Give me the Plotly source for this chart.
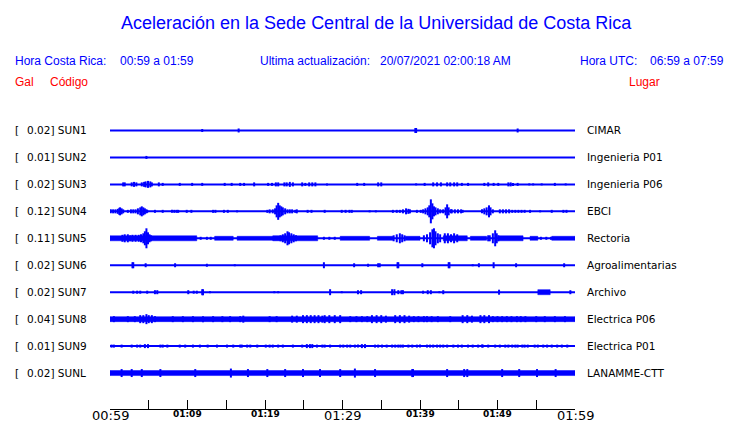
import plotly.graph_objects as go

# ---------------- data ----------------
stations = ["SUN1", "SUN2", "SUN3", "SUN4", "SUN5", "SUN6", "SUN7", "SUN8", "SUN9", "SUNL"]
places = ["CIMAR", "Ingenieria P01", "Ingenieria P06", "EBCI", "Rectoria",
          "Agroalimentarias", "Archivo", "Electrica P06", "Electrica P01", "LANAMME-CTT"]
peak_gal = ["0.02", "0.01", "0.02", "0.12", "0.11", "0.02", "0.02", "0.04", "0.01", "0.02"]

# minutes after 00:59 for the axis ticks, and their labels
tick_minutes = [0, 5, 10, 15, 20, 25, 30, 35, 40, 45, 50, 55, 60]
tick_labels = ["00:59", "", "01:09", "", "01:19", "", "01:29", "", "01:39", "", "01:49", "", "01:59"]
big_labels = ["00:59", "01:29", "01:59"]

# amplitudes are in trace units (27 units = spacing between two stations)
# continuous thick segments: (start minute, end minute, half amplitude)
sun5_bands = [(0, 11.2, 2.5), (13.5, 15.9, 2), (16.4, 21.9, 2), (21.0, 26.8, 2.5),
              (29.7, 33.5, 2), (34.5, 36.5, 2), (38.1, 40.0, 2), (43.0, 46.1, 2.5),
              (46.5, 48.6, 2), (50.1, 53.3, 2.5), (54.2, 55.2, 2), (57.0, 60.0, 2)]
sun7_bands = [(55.2, 56.8, 2.5)]
sun8_bands = [(0, 60, 2.5)]
sunl_bands = [(0, 60, 2.5)]

# individual strokes: (minute, half amplitude)
sun1_spikes = [(11.9, 1.5), (16.6, 2), (39.4, 2.5), (39.5, 2.5), (52.6, 2)]
sun2_spikes = [(4.7, 1.5)]
sun3_spikes = [(1.7, 2), (1.9, 2), (2.8, 2), (3.1, 2.5), (3.4, 2), (4.1, 2), (4.4, 2.5), (4.6, 3),
               (4.9, 3.5), (5.2, 3), (5.4, 2), (6.3, 2), (6.8, 1.5), (9.0, 1.5), (10.6, 1.5),
               (11.9, 1.5), (14.8, 1.5), (15.7, 1.5), (16.8, 1.5), (17.3, 1.5), (18.6, 2),
               (20.4, 1.5), (20.9, 1.5), (21.4, 2), (21.7, 2), (22.5, 2), (22.8, 2), (23.2, 2.5),
               (23.6, 2), (24.8, 2), (25.2, 1.5), (25.7, 2), (26.1, 2), (26.5, 2), (28.0, 1),
               (31.9, 1.5), (32.8, 1.5), (34.6, 2), (35.0, 2), (39.5, 1), (40.6, 1.5), (41.7, 2),
               (42.2, 2), (42.7, 2), (43.5, 2), (43.9, 2), (44.4, 2), (44.8, 2), (45.4, 1.5),
               (46.2, 1.5), (48.3, 1.5), (48.8, 2), (49.5, 1.5), (50.1, 1.5), (51.4, 2),
               (51.7, 2), (52.0, 1.5), (52.6, 1.5), (54.1, 1), (54.6, 1), (55.7, 1), (57.4, 1.5),
               (58.8, 1)]
sun4_spikes = [(0.1, 2), (0.4, 2), (0.7, 2), (1.0, 2.5), (1.2, 3.5), (1.3, 4), (1.5, 3), (1.7, 2),
               (2.3, 1.5), (2.7, 2), (3.0, 2), (3.3, 2), (3.6, 3), (3.9, 4), (4.1, 5), (4.3, 4),
               (4.5, 3), (4.7, 2), (4.8, 1.5), (5.8, 1.5), (6.8, 1.5), (8.0, 1.5), (8.3, 1.5),
               (8.6, 1.5), (8.8, 1.5), (9.9, 1.5), (10.5, 1.5), (13.3, 1.5), (13.6, 1.5),
               (14.7, 1.5), (15.2, 1.5), (16.4, 1), (20.3, 1.5), (20.6, 2), (21.0, 2), (21.3, 3),
               (21.5, 6), (21.7, 8.5), (21.9, 6), (22.1, 5), (22.3, 4), (22.6, 3), (22.9, 2),
               (23.2, 2), (23.5, 2), (23.9, 1.5), (24.1, 2), (25.5, 1.5), (26.0, 1.5),
               (27.7, 1.5), (29.9, 1.5), (30.4, 1.5), (30.9, 1.5), (31.2, 1.5), (33.5, 1),
               (34.3, 1), (36.5, 1.5), (37.0, 1.5), (37.4, 1.5), (37.8, 2), (38.2, 3), (38.5, 2.5),
               (38.7, 2), (39.6, 1.5), (40.1, 1.5), (40.4, 2), (40.7, 3), (41.0, 4), (41.2, 6),
               (41.4, 12), (41.6, 8), (41.8, 5), (42.0, 4), (42.3, 3), (42.6, 2), (42.9, 1.5),
               (43.0, 2), (43.3, 4), (43.5, 7), (43.7, 4), (44.0, 2), (44.1, 2), (44.5, 2),
               (44.9, 2), (45.3, 2), (45.5, 1.5), (48.0, 2), (48.3, 3), (48.6, 4), (48.9, 6),
               (49.1, 4), (49.4, 2), (50.3, 2), (50.7, 2), (51.1, 2), (51.5, 2), (51.9, 1.5),
               (52.3, 1.5), (52.7, 1.5), (53.1, 1.5), (53.5, 1.5), (54.2, 1.5), (55.5, 1),
               (57.0, 1.5), (58.5, 1.5), (58.9, 1.5)]
sun5_spikes = [(1.6, 3.5), (1.9, 4), (2.3, 4), (2.6, 3), (2.9, 3.5), (3.3, 3.5), (3.7, 3.5),
               (4.0, 4), (4.3, 5), (4.5, 7), (4.7, 10), (4.9, 6), (5.1, 4), (5.3, 3), (11.7, 1.5),
               (12.5, 1.5), (13.0, 1.5), (22.0, 3), (22.3, 4), (22.6, 5), (22.9, 7), (23.1, 6),
               (23.4, 5), (23.7, 4), (24.0, 3), (27.6, 1.5), (28.3, 1.5), (29.0, 1.5), (36.6, 3),
               (37.0, 4), (37.4, 5), (37.7, 4), (38.0, 3), (40.5, 3), (40.9, 4), (41.3, 6),
               (41.6, 9), (41.8, 10), (42.0, 7), (42.3, 5), (42.6, 4), (43.2, 5), (43.6, 5),
               (44.0, 4), (44.4, 5), (44.8, 4), (48.8, 3), (49.0, 3), (49.4, 5), (49.7, 8),
               (49.9, 5), (50.1, 3), (55.6, 1.5), (56.3, 1.5), (56.9, 1.5)]
sun6_spikes = [(2.9, 3), (3.0, 3), (4.6, 2), (8.4, 2), (12.5, 1.5), (16.1, 1), (27.6, 3),
               (31.5, 2), (33.3, 1.5), (34.6, 2), (34.8, 2), (37.1, 3), (37.2, 3), (40.3, 2),
               (43.7, 3), (43.8, 3), (46.8, 1), (47.6, 2), (49.5, 3), (52.4, 2), (58.6, 2)]
sun7_spikes = [(3.0, 1.5), (3.5, 1.5), (3.9, 1.5), (4.8, 1.5), (5.8, 2), (6.1, 2), (10.1, 2),
               (10.8, 1.5), (11.2, 1.5), (11.9, 3), (12.0, 3), (12.9, 1), (21.2, 1), (21.7, 1),
               (28.4, 3), (29.9, 1), (32.0, 2), (32.4, 2), (36.4, 3), (36.7, 3), (37.2, 2),
               (37.6, 2), (37.8, 2), (40.4, 1.5), (41.0, 2), (41.4, 2), (42.5, 1), (43.0, 2),
               (50.2, 2.5), (59.4, 2)]
sun8_spikes = [(0.5, 3), (2.3, 3), (3.2, 3), (3.9, 4), (4.3, 4), (4.7, 5), (5.0, 4), (5.4, 4),
               (5.8, 3), (8.1, 3), (9.4, 3), (10.7, 3), (12.0, 3), (13.3, 3), (14.5, 3), (15.5, 3),
               (16.8, 3), (17.2, 3.5), (20.6, 3), (21.5, 3), (23.5, 3.5), (24.1, 3.5), (24.9, 4),
               (25.4, 4), (25.9, 4), (26.4, 4), (26.9, 4), (27.4, 3.5), (27.7, 4), (28.3, 4),
               (29.0, 4), (29.7, 4), (31.0, 3), (31.8, 3), (32.5, 3), (33.2, 3), (33.8, 4),
               (34.4, 4), (35.0, 4), (35.6, 3.5), (36.8, 4), (37.4, 4), (38.0, 4), (38.6, 3.5),
               (39.2, 3), (39.8, 3), (40.5, 3), (40.9, 3), (41.5, 3), (42.3, 3), (43.9, 3),
               (45.5, 4), (46.1, 4), (46.7, 3.5), (47.8, 4), (48.3, 4), (48.9, 4), (49.4, 3),
               (50.0, 3), (50.6, 3), (51.2, 3), (51.8, 3), (52.5, 3), (53.0, 3), (53.6, 3),
               (55.0, 3), (56.1, 3), (57.4, 3), (58.7, 3)]
sun9_minutes = [0.2, 0.5, 1.5, 2.8, 3.5, 3.9, 4.5, 4.9, 6.5, 6.8, 7.4, 9.0, 9.7, 10.7, 11.6, 12.6,
                13.8, 15.1, 15.9, 16.8, 17.0, 17.7, 18.1, 19.0, 20.1, 20.6, 21.0, 21.7, 22.3, 23.6,
                24.8, 25.4, 25.8, 26.1, 26.7, 27.4, 27.7, 28.4, 29.7, 30.1, 30.6, 31.0, 31.6, 32.0,
                32.5, 32.9, 34.2, 34.6, 35.1, 35.7, 36.4, 36.8, 37.2, 37.5, 37.8, 38.5, 39.0, 39.6,
                40.0, 40.9, 41.3, 41.7, 42.2, 42.6, 43.0, 43.5, 44.3, 44.9, 45.4, 46.2, 46.8, 47.5,
                48.0, 48.1, 48.8, 49.7, 50.3, 51.0, 51.4, 51.9, 52.3, 52.6, 53.2, 53.5, 53.9, 54.8,
                55.2, 55.9, 56.4, 57.0, 57.7, 58.3, 59.0]
sun9_amps = [1.5, 1.5, 1.5, 1.5, 1.5, 1.5, 2, 2, 1.5, 1.5, 1.5, 1.5, 1.5, 1.5, 1.5, 1.5,
             1.5, 1.5, 1.5, 1.5, 1.5, 1.5, 1.5, 1.5, 1.5, 1.5, 1.5, 1.5, 1.5, 1.5,
             1.5, 2, 2, 2, 1.5, 1.5, 1.5, 1.5, 1.5, 1.5, 1.5, 1.5, 1.5, 1.5,
             2, 2, 1.5, 1.5, 1.5, 1.5, 1.5, 1.5, 1.5, 1.5, 1.5, 1.5, 1.5, 1.5,
             1.5, 1.5, 1.5, 1.5, 1.5, 1.5, 1.5, 1.5, 1.5, 1.5, 1.5, 1.5, 1.5, 1.5,
             1.5, 1.5, 1.5, 1.5, 1.5, 1.5, 1.5, 1.5, 1.5, 1.5, 1.5, 1.5, 1.5, 1.5,
             1.5, 1.5, 1.5, 1.5, 1.5, 1.5, 1.5]
sunl_spikes = [(1.5, 4), (2.8, 4), (4.1, 4), (6.5, 4), (11.0, 4), (15.6, 4.5), (17.8, 4),
               (20.3, 4), (22.6, 4), (24.9, 4), (27.1, 4), (29.7, 4), (31.6, 4.5), (34.2, 4),
               (39.0, 4), (39.1, 4), (43.5, 4), (45.7, 4), (46.1, 4), (50.6, 4), (52.8, 4),
               (55.1, 4), (57.5, 4)]

station_bands = [[], [], [], [], sun5_bands, [], sun7_bands, sun8_bands, [], sunl_bands]
station_spikes = [sun1_spikes, sun2_spikes, sun3_spikes, sun4_spikes, sun5_spikes,
                  sun6_spikes, sun7_spikes, sun8_spikes, list(zip(sun9_minutes, sun9_amps)),
                  sunl_spikes]

# ---------------- figure ----------------
BLUE = "#0000FF"
RED = "#FF0000"
ROW = 27.0          # trace units per station spacing
T_END = 60

OFF = 8             # page body margin that offsets the figure in the browser
FIG_W, FIG_H = 740 - OFF, 423 - OFF
L = 110 - OFF
R = FIG_W - (575 - OFF)
T = 116.5 - OFF
B = FIG_H - (409 - OFF)
W, H = FIG_W - L - R, FIG_H - T - B
PAD = 2             # annotation inner padding


def px(x):   # page pixel -> paper x
    return (x - OFF - L) / W


def py(y):   # page pixel -> paper y
    return (FIG_H - B - (y - OFF)) / H


fig = go.Figure()

for i, name in enumerate(stations):
    base = -i
    fig.add_trace(go.Scatter(x=[0, T_END], y=[base, base], mode="lines",
                             line=dict(color=BLUE, width=2), hoverinfo="skip",
                             showlegend=False))
    bx, by = [], []
    for t0, t1, a in station_bands[i]:
        h = a / ROW
        bx += [t0, t1, t1, t0, t0, None]
        by += [base - h, base - h, base + h, base + h, base - h, None]
    if bx:
        fig.add_trace(go.Scatter(x=bx, y=by, mode="lines", fill="toself",
                                 fillcolor=BLUE, line=dict(color=BLUE, width=0.5),
                                 hoverinfo="skip", showlegend=False))
    sx, sy = [], []
    for t, a in station_spikes[i]:
        h = a / ROW
        sx += [t, t, None]
        sy += [base - h, base + h, None]
    if sx:
        fig.add_trace(go.Scatter(x=sx, y=sy, mode="lines",
                                 line=dict(color=BLUE, width=2),
                                 hoverinfo="skip", showlegend=False))

annotations = []
lab_font = dict(family="DejaVu Sans", size=10.5, color="black")
for i, name in enumerate(stations):
    annotations.append(dict(x=px(15 - PAD), y=-i, xref="paper", yref="y", text="[",
                            showarrow=False, xanchor="left", yanchor="middle", font=lab_font))
    annotations.append(dict(x=px(27 - PAD), y=-i, xref="paper", yref="y",
                            text=f"{peak_gal[i]}] {name}",
                            showarrow=False, xanchor="left", yanchor="middle", font=lab_font))
    annotations.append(dict(x=px(587 - PAD), y=-i, xref="paper", yref="y", text=places[i],
                            showarrow=False, xanchor="left", yanchor="middle", font=lab_font))

hdr_font = dict(family="Liberation Sans", size=12, color=BLUE)
red_font = dict(family="Liberation Sans", size=12, color=RED)
header = [
    (15, 60, "Hora Costa Rica:", hdr_font),
    (120, 60, "00:59 a 01:59", hdr_font),
    (260, 60, "Ultima actualización:", hdr_font),
    (380, 60, "20/07/2021 02:00:18 AM", hdr_font),
    (580, 60, "Hora UTC:", hdr_font),
    (650, 60, "06:59 a 07:59", hdr_font),
    (15, 81, "Gal", red_font),
    (50, 81, "Código", red_font),
    (629, 81, "Lugar", red_font),
]
for x, y, txt, f in header:
    annotations.append(dict(x=px(x - PAD), y=py(y), xref="paper", yref="paper", text=txt,
                            showarrow=False, xanchor="left", yanchor="middle", font=f))
annotations.append(dict(x=px(376.5), y=py(22), xref="paper", yref="paper",
                        text="Aceleración en la Sede Central de la Universidad de Costa Rica",
                        showarrow=False, xanchor="center", yanchor="middle",
                        font=dict(family="Liberation Sans", size=18, color=BLUE)))

# time labels under the axis, placed on the axis' own x scale
for t, lab in zip(tick_minutes, tick_labels):
    if not lab:
        continue
    if lab in big_labels:
        f = dict(family="DejaVu Sans", size=13, color="black")
        yy = 416
    else:
        f = dict(family="DejaVu Sans", size=9, color="black", weight="bold")
        yy = 414
    annotations.append(dict(x=t, y=py(yy), xref="x", yref="paper", text=lab,
                            showarrow=False, xanchor="center", yanchor="middle", font=f))

fig.update_layout(
    width=FIG_W, height=FIG_H,
    margin=dict(l=L, r=R, t=T, b=B, pad=0, autoexpand=False),
    paper_bgcolor="white", plot_bgcolor="white",
    annotations=annotations,
    xaxis=dict(range=[0, T_END], tickmode="array", tickvals=tick_minutes,
               showticklabels=False,
               ticks="inside", ticklen=9, tickwidth=1, tickcolor="black",
               showline=True, linecolor="black", linewidth=1, showgrid=False,
               zeroline=False, fixedrange=True, automargin=False),
    yaxis=dict(range=[-(409 - 130) / ROW, 13.5 / ROW], showticklabels=False, showgrid=False,
               zeroline=False, showline=False, ticks="", fixedrange=True, automargin=False),
    showlegend=False,
)

fig.write_html("out.html")
